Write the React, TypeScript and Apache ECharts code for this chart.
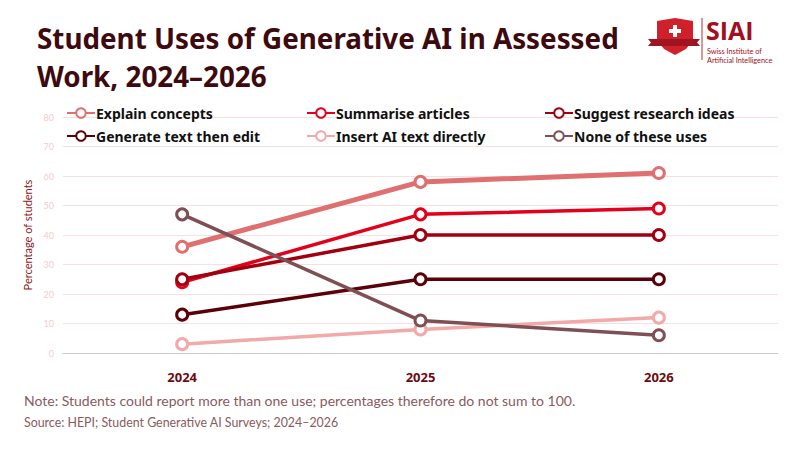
import React, { useEffect, useRef } from "react";
import * as echarts from "echarts";

const years = ["2024", "2025", "2026"];
const explainConcepts = [36, 58, 61];
const summariseArticles = [24, 47, 49];
const suggestResearch = [25, 40, 40];
const generateThenEdit = [13, 25, 25];
const insertDirectly = [3, 8, 12];
const noneOfThese = [47, 11, 6];
const seriesNames = [
  "Explain concepts",
  "Generate text then edit",
  "Summarise articles",
  "Insert AI text directly",
  "Suggest research ideas",
  "None of these uses",
];
const yTicks = { min: 0, max: 80, interval: 10 };

const FONT = "Lato, 'Noto Sans', sans-serif";
const BOLD = "'Noto Sans', Lato, sans-serif";

export default function App() {
  const ref = useRef<HTMLDivElement>(null);
  useEffect(() => {
    if (!ref.current) return;
    const chart = echarts.init(ref.current, null, { renderer: "svg" });
    const mk = (name: string, data: number[], color: string, width: number, z: number) => ({
      name,
      type: "line",
      data,
      z,
      symbol: "circle",
      symbolSize: 11,
      lineStyle: { color, width },
      itemStyle: { color: "#ffffff", borderColor: color, borderWidth: 3 },
      emphasis: { disabled: true },
    });
    const legendBase = {
      orient: "vertical",
      top: 101,
      itemWidth: 28,
      itemHeight: 12,
      itemGap: 9,
      textStyle: { fontFamily: BOLD, fontWeight: "bold", fontSize: 14, color: "#111111", padding: [0, 0, 0, -4] },
      selectedMode: false,
    };
    chart.setOption({
      animation: false,
      backgroundColor: "#ffffff",
      textStyle: { fontFamily: FONT },
      legend: [
        { ...legendBase, left: 61, data: [seriesNames[0], seriesNames[1]] },
        { ...legendBase, left: 301, data: [seriesNames[2], seriesNames[3]] },
        { ...legendBase, left: 539, data: [seriesNames[4], seriesNames[5]] },
      ],
      grid: { left: 63, right: 22, top: 117, bottom: 97 },
      xAxis: {
        type: "category",
        data: years,
        boundaryGap: true,
        axisLine: { lineStyle: { color: "#cccccc", width: 1 } },
        axisTick: { show: false },
        axisLabel: { color: "#6d0a10", fontWeight: "bold", fontSize: 13, margin: 17, fontFamily: BOLD },
      },
      yAxis: {
        type: "value",
        min: yTicks.min,
        max: yTicks.max,
        interval: yTicks.interval,
        name: "Percentage of students",
        nameLocation: "middle",
        nameGap: 19,
        nameTextStyle: { color: "#8b1a22", fontSize: 11, fontFamily: FONT },
        axisLine: { show: false },
        axisTick: { show: false },
        axisLabel: { color: "#f5cccc", fontSize: 9, margin: 9, fontFamily: FONT },
        splitLine: { lineStyle: { color: "#f8e0e0", width: 1 } },
      },
      series: [
        mk(seriesNames[0], explainConcepts, "#e06f6f", 5, 2),
        mk(seriesNames[1], generateThenEdit, "#5a0008", 3.5, 2),
        mk(seriesNames[2], summariseArticles, "#e3001b", 3.5, 2),
        mk(seriesNames[3], insertDirectly, "#f2a9a9", 3.5, 2),
        mk(seriesNames[4], suggestResearch, "#a00010", 3.5, 2),
        mk(seriesNames[5], noneOfThese, "#7e5056", 3.5, 3),
      ],
      graphic: [
        {
          type: "text",
          left: 37,
          top: 19,
          style: {
            text: "Student Uses of Generative AI in Assessed\nWork, 2024–2026",
            fontFamily: BOLD,
            fontWeight: "bold",
            fontSize: 27.8,
            lineHeight: 38,
            fill: "#3d0a0f",
          },
        },
        {
          type: "text",
          left: 24,
          top: 393,
          style: {
            text: "Note: Students could report more than one use; percentages therefore do not sum to 100.",
            fontFamily: FONT,
            fontSize: 14,
            fill: "#8a5a5e",
          },
        },
        {
          type: "text",
          left: 24,
          top: 416,
          style: {
            text: "Source: HEPI; Student Generative AI Surveys; 2024–2026",
            fontFamily: FONT,
            fontSize: 12.4,
            fill: "#8a5a5e",
          },
        },
        // Logo shield
        {
          type: "polygon",
          shape: {
            points: [
              [657, 21], [675, 18], [693, 21], [693, 40], [686, 49], [675, 55], [664, 49], [657, 40],
            ],
          },
          style: { fill: "#d0202c" },
        },
        {
          type: "polygon",
          shape: { points: [[648, 39], [700, 39], [697, 42.5], [700, 46], [648, 46], [651, 42.5]] },
          style: { fill: "#9e1420" },
        },
        {
          type: "rect",
          shape: { x: 673, y: 25, width: 4, height: 12 },
          style: { fill: "#ffffff" },
        },
        {
          type: "rect",
          shape: { x: 669, y: 29, width: 12, height: 4 },
          style: { fill: "#ffffff" },
        },
        {
          type: "line",
          shape: { x1: 702, y1: 18, x2: 702, y2: 60 },
          style: { stroke: "#b03040", lineWidth: 1 },
        },
        {
          type: "text",
          x: 706,
          y: 30,
          style: {
            text: "SIAI",
            fontFamily: "'Open Sans', sans-serif",
            fontWeight: "bold",
            fontSize: 25,
            lineHeight: 21,
            fill: "#a0101e",
            verticalAlign: "middle",
          },
        },
        {
          type: "text",
          x: 707,
          y: 51.5,
          style: { text: "Swiss Institute of", fontFamily: FONT, fontSize: 7.3, lineHeight: 7, fill: "#a0101e", verticalAlign: "middle" },
        },
        {
          type: "text",
          x: 707,
          y: 60.5,
          style: { text: "Artificial Intelligence", fontFamily: FONT, fontSize: 7.3, lineHeight: 7, fill: "#a0101e", verticalAlign: "middle" },
        },
      ],
    });
    return () => chart.dispose();
  }, []);
  return <div ref={ref} style={{ width: 800, height: 450, position: "fixed", left: 0, top: 0 }} />;
}
